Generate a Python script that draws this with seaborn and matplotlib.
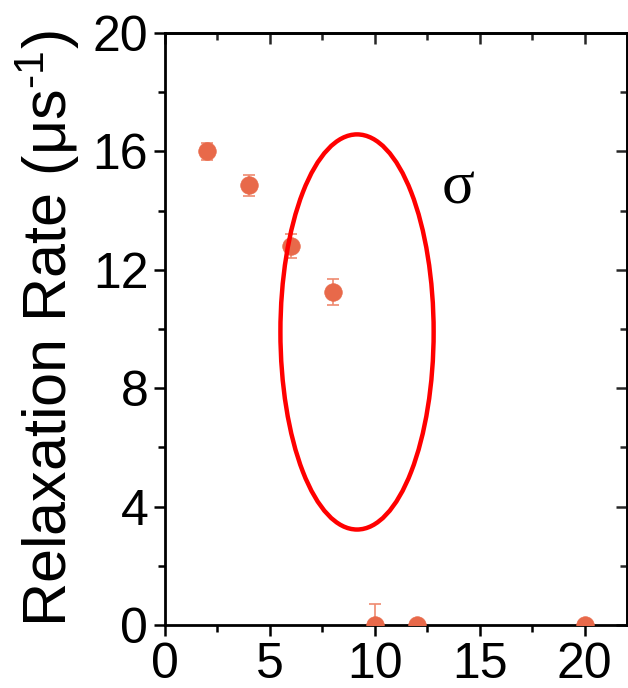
import matplotlib
matplotlib.use("Agg")
import matplotlib.pyplot as plt
from matplotlib.patches import Ellipse
from matplotlib.ticker import MultipleLocator
import seaborn as sns
import pandas as pd

# Relaxation rate vs. x
x_vals = [2, 4, 6, 8, 10, 12, 20]
rate = [16.0, 14.85, 12.8, 11.25, 0.0, 0.0, 0.0]
err_lo = [0.3, 0.35, 0.4, 0.45, 0.0, 0.0, 0.0]
err_hi = [0.3, 0.35, 0.4, 0.45, 0.7, 0.0, 0.0]

x_ticks = [0, 5, 10, 15, 20]
y_ticks = [0, 4, 8, 12, 16, 20]

sns.set_theme(style="ticks")
plt.rcParams["font.family"] = ["Liberation Sans", "DejaVu Sans"]
plt.rcParams["mathtext.fontset"] = "custom"
plt.rcParams["mathtext.rm"] = "Liberation Sans"
plt.rcParams["mathtext.it"] = "Liberation Sans"

df = pd.DataFrame({"x": x_vals, "rate": rate})

fig = plt.figure(figsize=(6.28, 6.88), dpi=100)
ax = fig.add_axes([0.2627, 0.0916, 0.7353, 0.8604])

point_color = "#E8694A"
ax.errorbar(x_vals, rate, yerr=[err_lo, err_hi], fmt="none",
            ecolor="#EF8A70", elinewidth=1.2, capsize=4, capthick=1.2, zorder=2)
sns.scatterplot(data=df, x="x", y="rate", ax=ax, color=point_color,
                s=160, edgecolor=point_color, linewidth=0.5, zorder=3, legend=False)

ax.add_patch(Ellipse((9.15, 9.9), width=7.3, height=13.35, fill=False,
                     edgecolor="#FF0000", linewidth=3.2, zorder=4))
ax.text(13.95, 14.75, "σ", fontsize=44, family=["Liberation Serif", "DejaVu Serif"],
        color="black", ha="center", va="center")

ax.set_xlim(0, 22)
ax.set_ylim(0, 20)
ax.set_xticks(x_ticks)
ax.set_yticks(y_ticks)
ax.xaxis.set_minor_locator(MultipleLocator(2.5))
ax.yaxis.set_minor_locator(MultipleLocator(2))
ax.tick_params(axis="both", which="major", labelsize=36, width=1.8, length=8,
               color="black", labelcolor="black", pad=4)
ax.tick_params(axis="both", which="minor", width=1.8, length=5, color="black")
ax.tick_params(axis="x", which="both", direction="out", top=False)
ax.tick_params(axis="y", which="both", direction="out", right=False)

# mirrored inward ticks on top and right
secx = ax.secondary_xaxis("top")
secx.set_xticks(x_ticks)
secx.xaxis.set_minor_locator(MultipleLocator(2.5))
secx.tick_params(which="major", direction="in", length=8, width=1.8, labeltop=False)
secx.tick_params(which="minor", direction="in", length=5, width=1.8)
secx.spines["top"].set_linewidth(2)
secy = ax.secondary_yaxis("right")
secy.set_yticks(y_ticks)
secy.yaxis.set_minor_locator(MultipleLocator(2))
secy.tick_params(which="major", direction="in", length=8, width=1.8, labelright=False)
secy.tick_params(which="minor", direction="in", length=5, width=1.8)
secy.spines["right"].set_linewidth(2)

for side in ["left", "bottom", "top", "right"]:
    ax.spines[side].set_visible(True)
    ax.spines[side].set_linewidth(2)
    ax.spines[side].set_color("black")

ax.set_xlabel("")
ax.set_ylabel(r"Relaxation Rate (μs$^{\mathrm{\text{-}1}}$)", fontsize=44,
              labelpad=8, color="black")

fig.savefig("out.png", dpi=100, facecolor="white")
